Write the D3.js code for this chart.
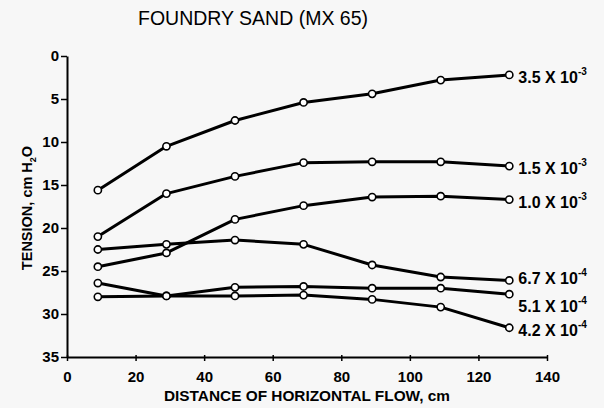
<!DOCTYPE html>
<html>
<head>
<meta charset="utf-8">
<script src="https://cdn.jsdelivr.net/npm/d3@7"></script>
<style>
  body { margin: 0; background: #f7f7f7; }
  svg { display: block; font-family: "Liberation Sans", Arial, sans-serif; }
</style>
</head>
<body>
<svg id="chart" width="604" height="408"></svg>
<script>
// distance along the flow, cm
const distance = [9, 29, 49, 69, 89, 109, 129];

// tension, cm H2O, one array per flow rate
const t35e3 = [15.6, 10.5, 7.5, 5.4, 4.4, 2.8, 2.2];
const t15e3 = [21.0, 16.0, 14.0, 12.4, 12.3, 12.3, 12.8];
const t10e3 = [24.5, 22.9, 19.0, 17.4, 16.4, 16.3, 16.7];
const t67e4 = [22.5, 21.9, 21.4, 21.9, 24.3, 25.7, 26.1];
const t51e4 = [26.4, 27.9, 26.9, 26.8, 27.0, 27.0, 27.7];
const t42e4 = [28.0, 27.9, 27.9, 27.8, 28.3, 29.2, 31.6];

const rateMantissa = ["3.5", "1.5", "1.0", "6.7", "5.1", "4.2"];
const rateExponent = ["-3", "-3", "-3", "-4", "-4", "-4"];

const xTicks = [0, 20, 40, 60, 80, 100, 120, 140];
const yTicks = [0, 5, 10, 15, 20, 25, 30, 35];

const series = [t35e3, t15e3, t10e3, t67e4, t51e4, t42e4].map((vals, i) => ({
  mantissa: rateMantissa[i],
  exponent: rateExponent[i],
  points: vals.map((v, j) => ({ x: distance[j], y: v }))
}));

const svg = d3.select("#chart");

const x = d3.scaleLinear().domain([0, 140]).range([67, 547]);
const y = d3.scaleLinear().domain([0, 35]).range([56, 357]);

svg.append("rect")
  .attr("width", 604).attr("height", 408)
  .attr("fill", "#f7f7f7");

// title
svg.append("text")
  .attr("x", 253).attr("y", 25)
  .attr("text-anchor", "middle")
  .attr("font-size", 20)
  .attr("textLength", 230)
  .attr("lengthAdjust", "spacingAndGlyphs")
  .text("FOUNDRY SAND (MX 65)");

// axes
const xAxis = svg.append("g")
  .attr("transform", `translate(0,${y(35)})`)
  .call(d3.axisBottom(x).tickValues(xTicks).tickSize(4).tickSizeOuter(0).tickPadding(10));

const yAxis = svg.append("g")
  .attr("transform", `translate(${x(0)},0)`)
  .call(d3.axisLeft(y).tickValues(yTicks).tickSize(6).tickSizeOuter(0).tickPadding(2));

[xAxis, yAxis].forEach((g) => {
  g.select(".domain").attr("stroke", "#000").attr("stroke-width", 2);
  g.selectAll(".tick line").attr("stroke", "#000").attr("stroke-width", 1.5);
  g.selectAll(".tick text")
    .attr("fill", "#000")
    .attr("font-size", 15)
    .attr("font-weight", "bold")
    .attr("font-family", "Liberation Sans, Arial, sans-serif");
});

xAxis.selectAll(".tick line").attr("y1", -2);

svg.append("text")
  .attr("x", 307).attr("y", 401)
  .attr("text-anchor", "middle")
  .attr("font-size", 15.5)
  .attr("font-weight", "bold")
  .attr("textLength", 286)
  .attr("lengthAdjust", "spacingAndGlyphs")
  .text("DISTANCE OF HORIZONTAL FLOW, cm");

const yLabel = svg.append("text")
  .attr("transform", "translate(32,208) rotate(-90)")
  .attr("text-anchor", "middle")
  .attr("font-size", 14.5)
  .attr("font-weight", "bold");
yLabel.append("tspan").text("TENSION, cm H");
yLabel.append("tspan").attr("font-size", 9).attr("dy", 4).text("2");
yLabel.append("tspan").attr("dy", -4).text("O");

// lines
const line = d3.line().x((d) => x(d.x)).y((d) => y(d.y));

const groups = svg.append("g")
  .selectAll("g.series")
  .data(series)
  .join("g")
  .attr("class", "series");

groups.append("path")
  .attr("d", (s) => line(s.points))
  .attr("fill", "none")
  .attr("stroke", "#000")
  .attr("stroke-width", 3)
  .attr("stroke-linejoin", "round");

groups.selectAll("circle")
  .data((s) => s.points)
  .join("circle")
  .attr("cx", (d) => x(d.x))
  .attr("cy", (d) => y(d.y))
  .attr("r", 3.6)
  .attr("fill", "#fff")
  .attr("stroke", "#000")
  .attr("stroke-width", 1.6);

// end labels
const labelShift = [0, 0, 0, -4, 10, 0];
const labels = groups.append("text")
  .attr("x", (s) => x(s.points[s.points.length - 1].x) + 9)
  .attr("y", (s, i) => y(s.points[s.points.length - 1].y) + 8 + labelShift[i])
  .attr("font-size", 16)
  .attr("font-weight", "bold");
labels.append("tspan").text((s) => s.mantissa + " X 10");
labels.append("tspan")
  .attr("font-size", 10)
  .attr("dy", -8)
  .text((s) => s.exponent);
</script>
</body>
</html>
